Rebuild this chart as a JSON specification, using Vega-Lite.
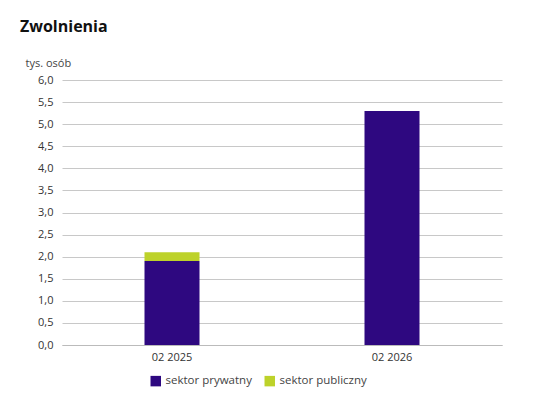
{
  "$schema": "https://vega.github.io/schema/vega-lite/v6.json",
  "width": 440,
  "height": 265,
  "autosize": "none",
  "padding": {"left": 62, "top": 80, "right": 33, "bottom": 69},
  "background": "white",
  "title": {
    "text": "Zwolnienia",
    "anchor": "start",
    "frame": "group",
    "dx": -42,
    "offset": 22,
    "fontSize": 16,
    "fontWeight": "bold",
    "font": "Open Sans",
    "color": "#111111"
  },
  "config": {
    "font": "Open Sans",
    "view": {"stroke": null}
  },
  "data": {
    "values": [
      {"okres": "02 2025", "sektor": "sektor prywatny", "wartosc": 1.9},
      {"okres": "02 2025", "sektor": "sektor publiczny", "wartosc": 0.2},
      {"okres": "02 2026", "sektor": "sektor prywatny", "wartosc": 5.3},
      {"okres": "02 2026", "sektor": "sektor publiczny", "wartosc": 0.0}
    ]
  },
  "mark": {"type": "bar"},
  "encoding": {
    "x": {
      "field": "okres",
      "type": "nominal",
      "title": null,
      "scale": {"paddingInner": 0.75, "paddingOuter": 0.375},
      "axis": {
        "labelAngle": 0,
        "labelFontSize": 11,
        "labelColor": "#333333",
        "domainColor": "#bbbbbb",
        "ticks": false,
        "labelPadding": 6
      }
    },
    "y": {
      "field": "wartosc",
      "type": "quantitative",
      "stack": "zero",
      "scale": {"domain": [0, 6]},
      "axis": {
        "values": [0, 0.5, 1, 1.5, 2, 2.5, 3, 3.5, 4, 4.5, 5, 5.5, 6],
        "format": ".1f",
        "labelExpr": "replace(datum.label, '.', ',')",
        "labelFontSize": 11,
        "labelColor": "#333333",
        "domain": false,
        "ticks": false,
        "labelPadding": 9,
        "gridColor": "#c8c8c8",
        "title": "tys. osób",
        "titleAngle": 0,
        "titleAlign": "left",
        "titleBaseline": "middle",
        "titleX": -37,
        "titleY": -17,
        "titleFontSize": 11,
        "titleFontWeight": "normal",
        "titleColor": "#444444"
      }
    },
    "color": {
      "field": "sektor",
      "type": "nominal",
      "scale": {
        "domain": ["sektor prywatny", "sektor publiczny"],
        "range": ["#2e0880", "#bdd22a"]
      },
      "legend": {
        "title": null,
        "orient": "none",
        "legendX": 88,
        "legendY": 295,
        "direction": "horizontal",
        "symbolType": "square",
        "symbolSize": 110,
        "symbolStrokeWidth": 0,
        "labelFontSize": 11.5,
        "labelColor": "#444444",
        "columnPadding": 12
      }
    },
    "order": {"field": "sektor", "sort": "ascending"}
  }
}
